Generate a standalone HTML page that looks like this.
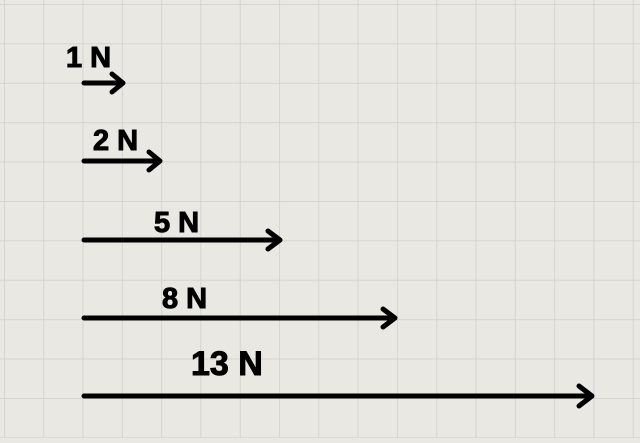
<!DOCTYPE html>
<html><head><style>
html,body{margin:0;padding:0;}
body{width:640px;height:438px;overflow:hidden;background:#e9e8e3;}
</style></head><body>
<svg width="640" height="438" xmlns="http://www.w3.org/2000/svg">
<defs>
<pattern id="g" x="4" y="4" width="39.3" height="39.4" patternUnits="userSpaceOnUse">
<path d="M0 0H39.3M0 0V39.4" stroke="#cfcfca" stroke-width="1.5" fill="none"/>
</pattern>
</defs>
<rect width="640" height="438" fill="#e9e8e3"/>
<rect width="640" height="438" fill="url(#g)"/>
<g stroke="#000" stroke-width="5" stroke-linecap="round" stroke-linejoin="round" fill="none">
<path d="M84 83H123M112 74L123 83L112 92"/>
<path d="M84 161H160M149 152L160 161L149 170"/>
<path d="M84 240H280M268 231L280 240L268 249"/>
<path d="M84 318H395M383 309L395 318L383 327"/>
<path d="M84 396H592M579 386L592 396L579 406"/>
</g>
<g font-family="Liberation Sans, sans-serif" font-weight="bold" fill="#000" stroke="#000" stroke-width="1">
<text x="66" y="67" font-size="29">1 N</text>
<text x="93" y="150" font-size="29">2 N</text>
<text x="154" y="232" font-size="29">5 N</text>
<text x="162" y="308" font-size="29">8 N</text>
<text x="191" y="375" font-size="34">13 N</text>
</g>
</svg>
</body></html>
